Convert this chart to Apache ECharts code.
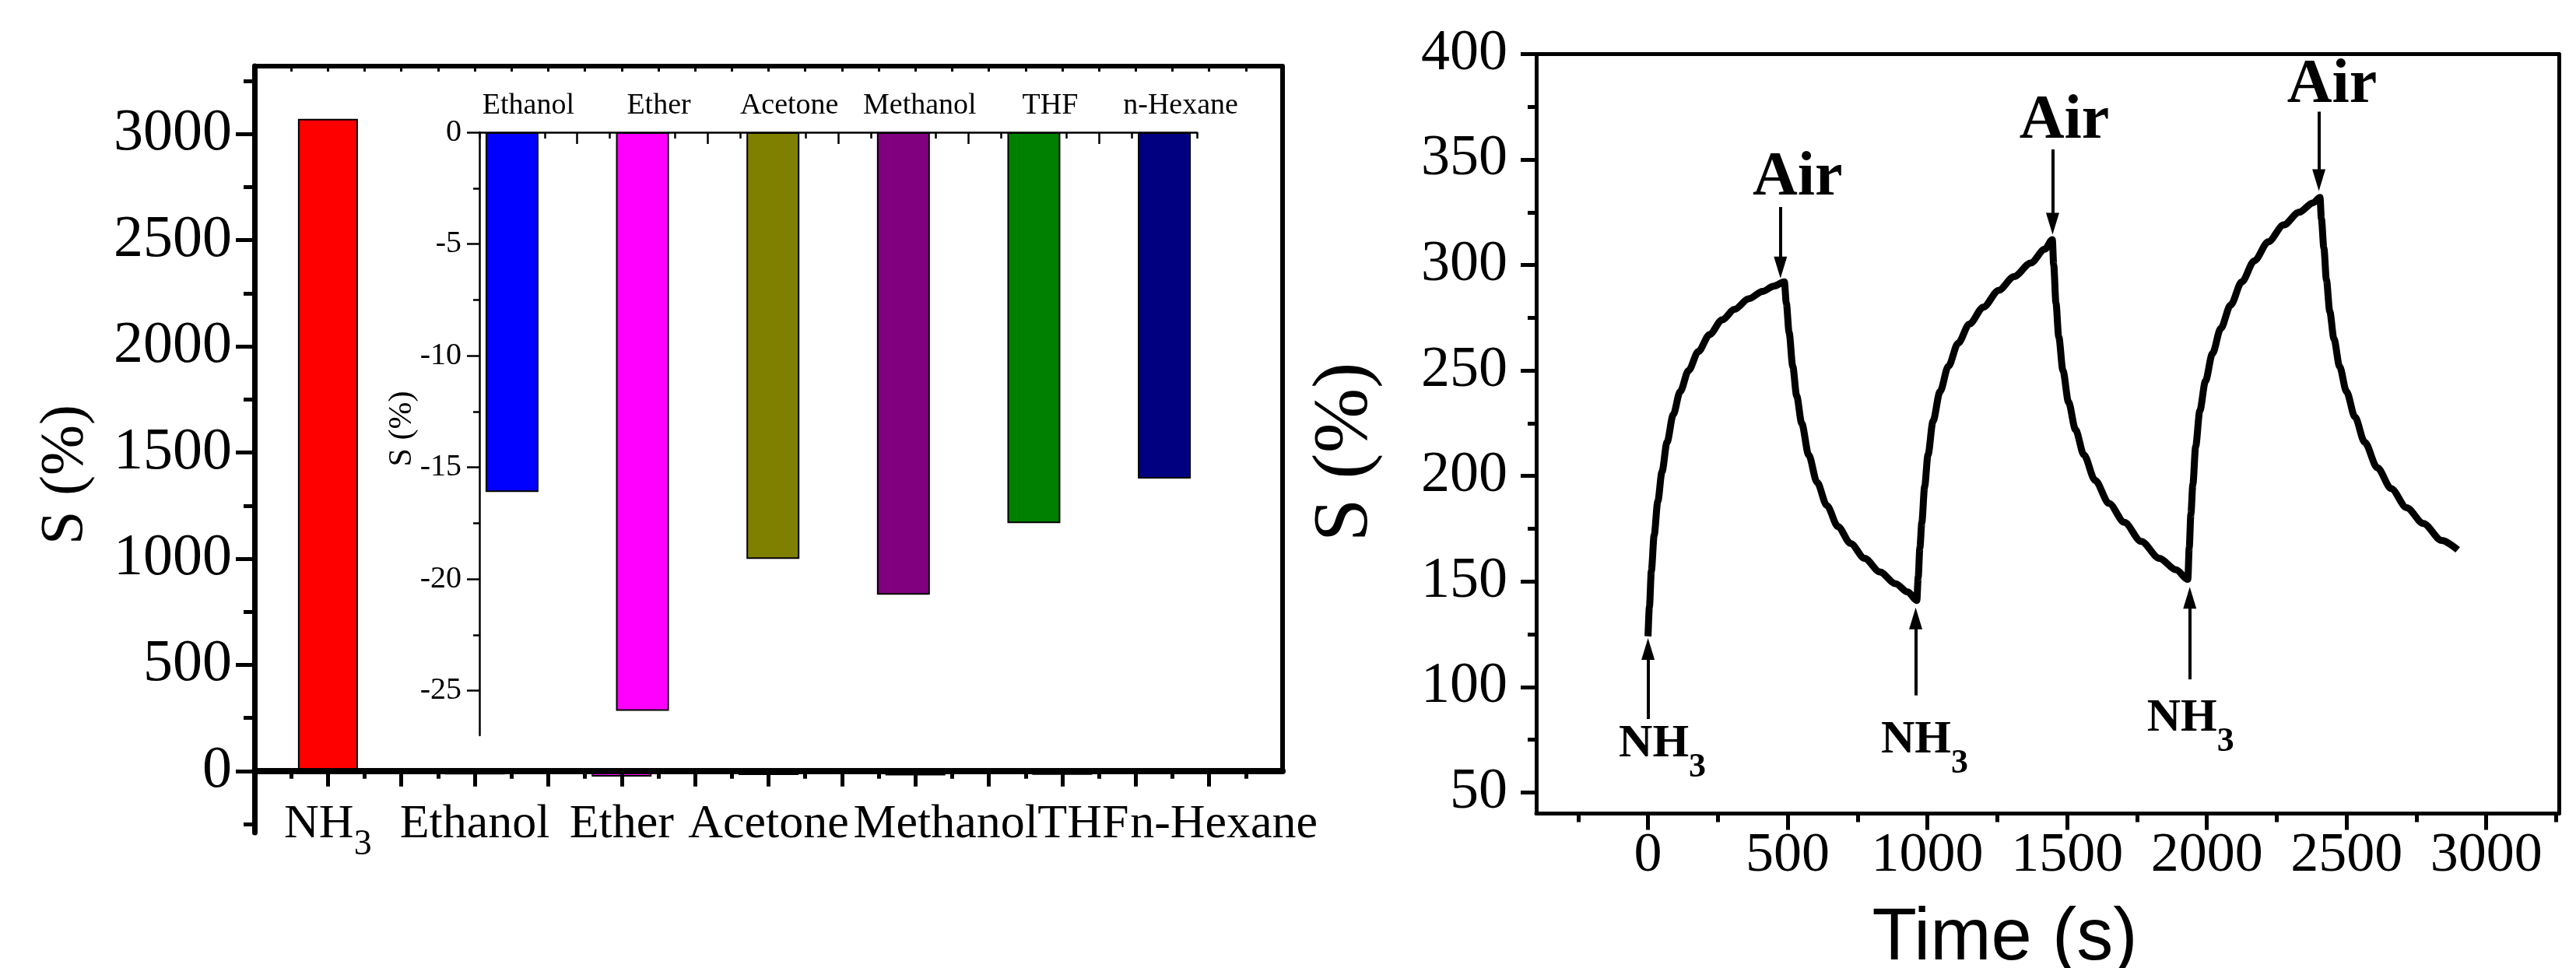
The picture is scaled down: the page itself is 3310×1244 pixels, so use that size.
<!DOCTYPE html>
<html>
<head>
<meta charset="utf-8">
<script src="https://cdn.jsdelivr.net/npm/echarts@6.0.0/dist/echarts.min.js"></script>
<style>
  html, body { margin: 0; padding: 0; background: #fff; }
  #chart { width: 3310px; height: 1244px; }
</style>
</head>
<body>
<div id="chart"></div>
<script>
const SERIF = "'Liberation Serif', 'Times New Roman', serif";
const SANS = "'Liberation Sans', Arial, sans-serif";
const BLACK = '#000';

// left panel: response of the sensor to each gas
const gases = ['NH3', 'Ethanol', 'Ether', 'Acetone', 'Methanol', 'THF', 'n-Hexane'];
const response = [3072, -16.1, -25.9, -19.1, -20.7, -17.5, -15.5];
const barColors = ['#ff0000', '#0000ff', '#ff00ff', '#808000', '#800080', '#008000', '#000080'];
const gasPos = [1, 2, 3, 4, 5, 6, 7];
const gasOdd = [1, 3, 5, 7];
const gasEven = [2, 4, 6];
const insetPos = [1, 2, 3, 4, 5, 6];

const mainYTicks = [0, 500, 1000, 1500, 2000, 2500, 3000];
const mainYMinor = [-250, 250, 750, 1250, 1750, 2250, 2750, 3250];
const mainXMajor = [1, 1.5, 2, 2.5, 3, 3.5, 4, 4.5, 5, 5.5, 6, 6.5, 7];
const mainXMinor = [0.75, 1.25, 1.75, 2.25, 2.75, 3.25, 3.75, 4.25, 4.75, 5.25, 5.75, 6.25, 6.75, 7.25];
const insetYTicks = [0, -5, -10, -15, -20, -25];
const insetYMinor = [-2.5, -7.5, -12.5, -17.5, -22.5];
const insetXMajor = [1, 1.5, 2, 2.5, 3, 3.5, 4, 4.5, 5, 5.5, 6];
const insetXMinor = [0.75, 1.25, 1.75, 2.25, 2.75, 3.25, 3.75, 4.25, 4.75, 5.25, 5.75, 6.25];

// right panel: dynamic response
const time = [
  0, 5, 12, 22, 35, 50, 68, 90, 115, 145, 180, 220, 265, 310, 360, 410, 450, 488,
  495, 505, 518, 532, 550, 575, 605, 640, 680, 725, 775, 830, 885, 930, 962,
  967, 973, 980, 990, 1002, 1020, 1045, 1075, 1110, 1150, 1200, 1255, 1310, 1370, 1420, 1447,
  1452, 1460, 1470, 1485, 1505, 1530, 1560, 1600, 1650, 1705, 1765, 1830, 1890, 1932,
  1937, 1943, 1950, 1960, 1975, 1995, 2020, 2050, 2085, 2125, 2170, 2220, 2275, 2330, 2380, 2405,
  2410, 2419, 2428, 2440, 2455, 2475, 2500, 2530, 2565, 2610, 2660, 2715, 2775, 2840, 2898
];
const sValue = [
  124, 138, 155, 172, 188, 202, 216, 229, 240, 250, 259, 267, 274, 279, 284, 287.5, 290, 292,
  282, 268, 252, 238, 225, 210, 197, 186, 176, 168, 161, 154.5, 149, 145, 141,
  152, 166, 178, 195, 210, 226, 240, 252, 263, 272, 280, 288, 294.5, 301, 307.5, 312,
  300, 282, 266, 250, 235, 222, 210, 198, 187, 178, 169, 161, 155.5, 151,
  166, 182, 196, 214, 231, 245, 258, 270, 281, 292, 302, 311, 319, 325, 329.5, 332,
  322, 308, 293, 278, 265, 252, 240, 228, 216, 204, 194, 185, 177.5, 169.5, 165
];
const timeTicks = [0, 500, 1000, 1500, 2000, 2500, 3000];
const timeMinor = [-250, 250, 750, 1250, 1750, 2250, 2750, 3250];
const sTicks = [50, 100, 150, 200, 250, 300, 350, 400];
const sMinor = [75, 125, 175, 225, 275, 325, 375];

// annotations, in data units: [time, from S, to S] and [time, S] for the texts
const airArrows = [[474, 327.5, 298.8], [1448, 354.8, 319.6], [2401, 372.7, 340.2]];
const airText = [[535, 341], [1490, 368], [2448, 385]];
const nh3Arrows = [[0, 84.8, 118], [958, 96, 132.5], [1939, 103.6, 142.3]];
const nh3Text = [[51.5, 72.9], [990, 74.6], [1941.5, 85.1]];

function gasStyle(pad) {
  return { fontFamily: SERIF, fontSize: 62, lineHeight: 62, verticalAlign: 'top', color: BLACK, padding: [0, 0, 0, pad] };
}
const gasRich = {
  a: gasStyle(0),
  m: gasStyle(78),
  t: gasStyle(54),
  h: gasStyle(38),
  b: { fontFamily: SERIF, fontSize: 46, lineHeight: 46, verticalAlign: 'top', padding: [34, 0, 0, 0], color: BLACK }
};
const gasKey = { Methanol: 'm', THF: 't', 'n-Hexane': 'h' };
function gasLabel(v) {
  const name = gases[v - 1];
  if (name === 'NH3') return '{a|NH}{b|3}';
  return '{' + (gasKey[name] || 'a') + '|' + name + '}';
}
const nhRich = {
  nh: { fontFamily: SERIF, fontWeight: 'bold', fontSize: 60, lineHeight: 60, verticalAlign: 'top', color: BLACK },
  sub: { fontFamily: SERIF, fontWeight: 'bold', fontSize: 44, lineHeight: 44, verticalAlign: 'top', padding: [38, 0, 0, 0], color: BLACK }
};

function axis(o) {
  return Object.assign({
    type: 'value',
    splitLine: { show: false },
    axisLine: { show: false, onZero: false },
    axisTick: { show: false },
    axisLabel: { show: false }
  }, o);
}
function ticks(values, len, w, inside) {
  return { show: true, customValues: values, length: len, inside: !!inside, lineStyle: { color: BLACK, width: w } };
}
function labels(values, size, margin, extra) {
  return Object.assign({
    show: true, customValues: values, fontSize: size, fontFamily: SERIF, color: BLACK,
    margin: margin, hideOverlap: false, showMinLabel: true, showMaxLabel: true,
    formatter: v => String(v)
  }, extra);
}

// gas names are split over two overlaid axes so neighbouring labels never get hidden
const xAxis = [
  // main panel
  axis({ gridIndex: 0, min: 0.5, max: 7.5, position: 'bottom', z: 5,
    axisLine: { show: true, onZero: true, lineStyle: { color: BLACK, width: 8 } },
    axisTick: ticks(mainXMajor, 20, 5),
    axisLabel: labels(gasOdd, 62, -41, { formatter: gasLabel, rich: gasRich }) }),
  axis({ gridIndex: 0, min: 0.5, max: 7.5, position: 'bottom', z: 5,
    axisLine: { show: false, onZero: true }, axisTick: ticks(mainXMinor, 10, 5),
    axisLabel: labels(gasEven, 62, -41, { formatter: gasLabel, rich: gasRich }) }),
  axis({ gridIndex: 0, min: 0.5, max: 7.5, position: 'top',
    axisLine: { show: true, onZero: false, lineStyle: { color: BLACK, width: 6 } },
    axisTick: ticks(mainXMajor.concat(mainXMinor), 7, 3, true) }),
  // inset
  axis({ gridIndex: 1, min: 0.75, max: 6.25, position: 'top',
    axisLine: { show: true, onZero: false, lineStyle: { color: BLACK, width: 2.5 } },
    axisTick: ticks(insetXMajor, 15, 2.5, true),
    axisLabel: labels(insetPos, 38, 15, { formatter: v => gases[v], padding: [0, 0, 0, 42] }) }),
  axis({ gridIndex: 1, min: 0.75, max: 6.25, position: 'top', axisTick: ticks(insetXMinor, 8, 2.5, true) }),
  // right panel
  axis({ gridIndex: 2, min: -400, max: 3260, position: 'bottom',
    axisLine: { show: true, onZero: false, lineStyle: { color: BLACK, width: 5 } },
    axisTick: ticks(timeTicks, 21, 5),
    axisLabel: labels(timeTicks, 72, 19) }),
  axis({ gridIndex: 2, min: -400, max: 3260, position: 'bottom', axisTick: ticks(timeMinor, 11, 5) }),
  axis({ gridIndex: 2, min: -400, max: 3260, position: 'top',
    axisLine: { show: true, onZero: false, lineStyle: { color: BLACK, width: 5 } } })
];

const yAxis = [
  axis({ gridIndex: 0, min: -290, max: 3320, position: 'left',
    axisLine: { show: true, onZero: false, lineStyle: { color: BLACK, width: 7 } },
    axisTick: ticks(mainYTicks, 24, 5),
    axisLabel: labels(mainYTicks, 76, 29) }),
  axis({ gridIndex: 0, min: -290, max: 3320, position: 'left', axisTick: ticks(mainYMinor, 14, 5) }),
  axis({ gridIndex: 1, min: -27, max: 0, position: 'left',
    axisLine: { show: true, onZero: false, lineStyle: { color: BLACK, width: 2.5 } },
    axisTick: ticks(insetYTicks, 16, 2.5),
    axisLabel: labels(insetYTicks, 40, 23) }),
  axis({ gridIndex: 1, min: -27, max: 0, position: 'left', axisTick: ticks(insetYMinor, 8, 2.5) }),
  axis({ gridIndex: 2, min: 40, max: 400, position: 'left',
    axisLine: { show: true, onZero: false, lineStyle: { color: BLACK, width: 5 } },
    axisTick: ticks(sTicks, 20, 5),
    axisLabel: labels(sTicks, 74, 37) }),
  axis({ gridIndex: 2, min: 40, max: 400, position: 'left', axisTick: ticks(sMinor, 11, 5) }),
  axis({ gridIndex: 2, min: 40, max: 400, position: 'right',
    axisLine: { show: true, onZero: false, lineStyle: { color: BLACK, width: 5 } } })
];

function arrow(a) {
  return [{ coord: [a[0], a[1]] }, { coord: [a[0], a[2]], symbol: 'triangle', symbolSize: [17, 28] }];
}

const option = {
  animation: false,
  backgroundColor: '#fff',
  textStyle: { fontFamily: SERIF, color: BLACK },
  grid: [
    { left: 327, top: 85, width: 1321, height: 985, containLabel: false, outerBoundsMode: 'none' },
    { left: 616, top: 170, width: 922, height: 775, containLabel: false, outerBoundsMode: 'none' },
    { left: 1974, top: 69.5, width: 1314, height: 976, containLabel: false, outerBoundsMode: 'none' }
  ],
  xAxis: xAxis,
  yAxis: yAxis,
  series: [
    {
      type: 'bar', xAxisIndex: 0, yAxisIndex: 0, barWidth: 77, silent: true,
      itemStyle: { borderColor: BLACK, borderWidth: 2 },
      data: gasPos.map((x, i) => ({ value: [x, response[i]], itemStyle: { color: barColors[i] } })),
      markLine: {
        silent: true, symbol: 'none', label: { show: false },
        lineStyle: { color: BLACK, width: 6, type: 'solid' },
        data: [[{ coord: [7.5, 0] }, { coord: [7.5, 3320] }]]
      }
    },
    {
      type: 'bar', xAxisIndex: 3, yAxisIndex: 2, barWidth: 68, silent: true,
      itemStyle: { borderColor: BLACK, borderWidth: 2 },
      data: insetPos.map((x, i) => ({ value: [x, response[i + 1]], itemStyle: { color: barColors[i + 1] } }))
    },
    {
      type: 'line', xAxisIndex: 5, yAxisIndex: 4, silent: true,
      symbol: 'none', showSymbol: false, smooth: 0.3, smoothMonotone: 'x',
      lineStyle: { color: BLACK, width: 9 },
      data: time.map((t, i) => [t, sValue[i]]),
      markLine: {
        silent: true, symbol: 'none', label: { show: false },
        lineStyle: { color: BLACK, width: 4, type: 'solid' },
        emphasis: { disabled: true },
        data: airArrows.map(arrow).concat(nh3Arrows.map(arrow))
      },
      markPoint: {
        silent: true, symbol: 'rect', symbolSize: 1,
        itemStyle: { color: 'rgba(0,0,0,0)' },
        label: { show: true, position: 'inside', color: BLACK, fontFamily: SERIF },
        data: airText.map(p => ({
          coord: p,
          label: { formatter: 'Air', fontSize: 80, fontWeight: 'bold', fontFamily: SERIF, color: BLACK }
        })).concat(nh3Text.map(p => ({
          coord: p,
          label: { formatter: '{nh|NH}{sub|3}', rich: nhRich }
        })))
      }
    }
  ],
  graphic: [
    { type: 'text', x: 85, y: 610, rotation: Math.PI / 2, silent: true,
      style: { text: 'S (%)', fontSize: 78, fontFamily: SERIF, fill: BLACK,
        align: 'center', verticalAlign: 'middle', textAlign: 'center', textVerticalAlign: 'middle' } },
    { type: 'text', x: 517, y: 551, rotation: Math.PI / 2, silent: true,
      style: { text: 'S (%)', fontSize: 42, fontFamily: SERIF, fill: BLACK,
        align: 'center', verticalAlign: 'middle', textAlign: 'center', textVerticalAlign: 'middle' } },
    { type: 'text', x: 1729, y: 581, rotation: Math.PI / 2, silent: true,
      style: { text: 'S (%)', fontSize: 100, fontFamily: SERIF, fill: BLACK,
        align: 'center', verticalAlign: 'middle', textAlign: 'center', textVerticalAlign: 'middle' } },
    { type: 'text', x: 2576, y: 1207, silent: true,
      style: { text: 'Time (s)', fontSize: 94, fontFamily: SANS, fill: BLACK,
        align: 'center', verticalAlign: 'middle', textAlign: 'center', textVerticalAlign: 'middle' } }
  ]
};

const chart = echarts.init(document.getElementById('chart'), null, { renderer: 'canvas' });
chart.setOption(option);
</script>
</body>
</html>
